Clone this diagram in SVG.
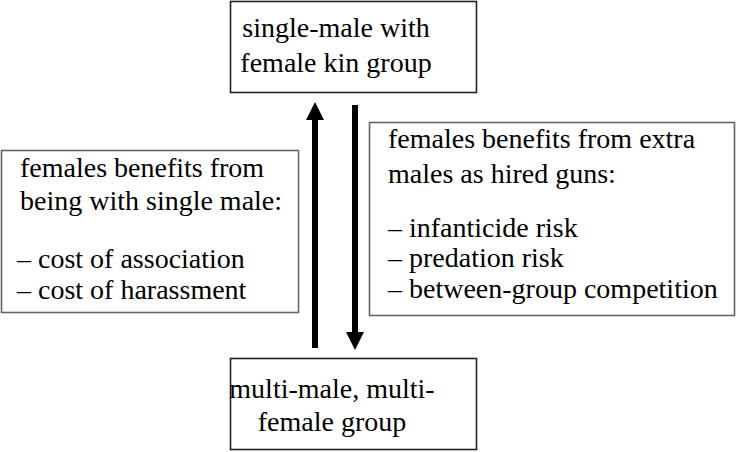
<svg xmlns="http://www.w3.org/2000/svg" width="737" height="452" viewBox="0 0 737 452">
<style>
text{font-family:'Liberation Serif',Tinos,'Times New Roman',Times,serif;font-size:28px;fill:#000}
.main{fill:#fff;stroke:#222;stroke-width:1.6}
.side{fill:#fff;stroke:#666;stroke-width:1.6}
.arrow{stroke:#000;stroke-width:6;fill:none}
</style>
<defs>
<marker id="ah" markerUnits="userSpaceOnUse" markerWidth="18" markerHeight="18" viewBox="0 0 18 18" refX="0" refY="9" orient="auto">
<path d="M0,0 L18,9 L0,18 Z" fill="#000"/>
</marker>
</defs>
<rect width="737" height="452" fill="#fff"/>
<g id="top">
<rect class="main" x="230.5" y="1.5" width="246" height="91"/>
<text x="336" y="37" text-anchor="middle">single-male with</text>
<text x="336" y="72" text-anchor="middle">female kin group</text>
</g>
<g id="bottom">
<rect class="main" x="230.5" y="358.5" width="246" height="91"/>
<text x="332" y="398" text-anchor="middle">multi-male, multi-</text>
<text x="332" y="431" text-anchor="middle">female group</text>
</g>
<g id="left">
<rect class="side" x="1.5" y="150.5" width="297" height="162"/>
<text x="20" y="177">females benefits from</text>
<text x="20" y="210">being with single male:</text>
<text x="17" y="268">– cost of association</text>
<text x="17" y="299">– cost of harassment</text>
</g>
<g id="right">
<rect class="side" x="369.5" y="122.5" width="365" height="193"/>
<text x="388" y="148">females benefits from extra</text>
<text x="388" y="183">males as hired guns:</text>
<text x="388" y="237">– infanticide risk</text>
<text x="388" y="267">– predation risk</text>
<text x="388" y="298">– between-group competition</text>
</g>
<g id="connectors">
<line class="arrow" x1="315" y1="348" x2="315" y2="120" marker-end="url(#ah)"/>
<line class="arrow" x1="355" y1="105" x2="355" y2="332" marker-end="url(#ah)"/>
</g>
</svg>
